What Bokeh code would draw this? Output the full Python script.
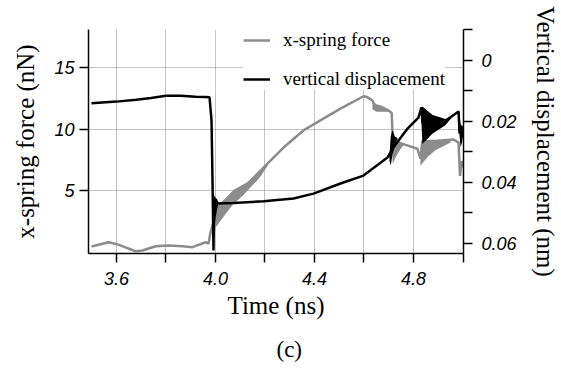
from bokeh.plotting import figure
from bokeh.models import (Range1d, LinearAxis, FixedTicker, Legend, LegendItem,
                          Title, CustomJSTickFormatter)
from bokeh.embed import file_html
from bokeh.resources import INLINE

# ---------------- data ----------------
# x-spring force (nN), left axis
t_force = [3.499, 3.568, 3.608, 3.677, 3.705, 3.758, 3.810, 3.867, 3.907, 3.960,
           3.972, 3.980, 3.988, 4.000, 4.073, 4.141, 4.210, 4.275, 4.356, 4.424,
           4.505, 4.598, 4.612, 4.634, 4.646, 4.699, 4.712, 4.716, 4.756, 4.816,
           4.828, 4.836, 4.897, 4.962, 4.982, 4.988, 4.994, 5.000]
force = [0.49, 0.84, 0.65, 0.11, 0.17, 0.52, 0.57, 0.52, 0.44, 0.84,
         0.74, 1.65, 2.20, 2.80, 4.50, 5.80, 7.20, 8.50, 9.90, 10.70,
         11.65, 12.65, 12.60, 12.30, 11.80, 11.50, 11.30, 9.10, 8.80, 8.40,
         7.60, 9.00, 9.05, 9.15, 8.90, 6.20, 7.40, 6.90]

# oscillation envelopes of the force (fast vibration shows as a thick band)
t_fband_a = [3.996, 4.000, 4.040, 4.073, 4.110, 4.141, 4.180, 4.210]
fband_a_hi = [3.00, 3.64, 4.40, 5.09, 5.50, 5.83, 6.60, 7.21]
fband_a_lo = [1.00, 2.02, 3.10, 3.96, 4.60, 5.27, 6.10, 7.00]
t_fband_b = [4.712, 4.716, 4.730, 4.745, 4.760]
fband_b_hi = [11.30, 9.30, 9.00, 8.90, 8.80]
fband_b_lo = [9.00, 7.20, 7.80, 8.30, 8.70]
t_fband_c = [4.828, 4.834, 4.860, 4.890, 4.920, 4.950]
fband_c_hi = [8.40, 9.20, 9.10, 9.10, 9.10, 9.15]
fband_c_lo = [7.00, 7.20, 7.80, 8.30, 8.60, 8.90]
t_fband_d = [4.634, 4.650, 4.670, 4.700]
fband_d_hi = [12.30, 12.00, 11.90, 11.60]
fband_d_lo = [11.60, 11.40, 11.40, 11.40]

# vertical displacement (nm), right axis (inverted)
t_disp = [3.499, 3.600, 3.680, 3.740, 3.800, 3.860, 3.920, 3.960, 3.976, 3.984,
          3.988, 3.992, 3.994, 3.996, 4.000, 4.004, 4.073, 4.194, 4.315, 4.396,
          4.505, 4.598, 4.695, 4.715, 4.776, 4.820, 4.832, 4.836, 4.877, 4.929,
          4.958, 4.982, 4.986, 4.992, 5.000]
disp = [0.0141, 0.0136, 0.0130, 0.0124, 0.0117, 0.0117, 0.0120, 0.0121, 0.0122, 0.0198,
        0.0394, 0.0623, 0.0460, 0.0500, 0.0469, 0.0469, 0.0468, 0.0462, 0.0453, 0.0437,
        0.0404, 0.0378, 0.0319, 0.0290, 0.0224, 0.0188, 0.0155, 0.0205, 0.0210, 0.0200,
        0.0182, 0.0168, 0.0240, 0.0215, 0.0231]

t_dband_e = [3.992, 3.996, 4.000, 4.006, 4.012]
dband_e_hi = [0.0440, 0.0445, 0.0450, 0.0455, 0.0465]
dband_e_lo = [0.0623, 0.0560, 0.0520, 0.0490, 0.0470]
t_dband_f = [4.703, 4.708, 4.715, 4.725, 4.735]
dband_f_hi = [0.0310, 0.0250, 0.0230, 0.0250, 0.0255]
dband_f_lo = [0.0330, 0.0345, 0.0310, 0.0280, 0.0260]
t_dband_g = [4.832, 4.836, 4.877, 4.929, 4.958]
dband_g_hi = [0.0155, 0.0152, 0.0180, 0.0193, 0.0180]
dband_g_lo = [0.0200, 0.0275, 0.0240, 0.0213, 0.0185]
t_dband_h = [4.985, 4.990, 4.996, 5.000]
dband_h_hi = [0.0170, 0.0210, 0.0220, 0.0220]
dband_h_lo = [0.0240, 0.0285, 0.0270, 0.0250]

x_major = [3.6, 4.0, 4.4, 4.8]
x_minor = [3.8, 4.2, 4.6, 5.0]
x_grid = [3.6, 3.8, 4.0, 4.2, 4.4, 4.6, 4.8]
yl_ticks = [5, 10, 15]
yr_major = [0.0, 0.02, 0.04, 0.06]
yr_minor = [-0.01, 0.01, 0.03, 0.05]

series_names = ["x-spring force", "vertical displacement"]
caption = "(c)"

# ---------------- styles ----------------
GRAY = "#8c8c8c"
SERIF = "Liberation Serif"
SANS = "Liberation Sans"

X0, X1 = 3.487, 5.002
YL0, YL1 = -0.07, 18.05

p = figure(width=561, height=379, output_backend="svg", toolbar_location=None,
           x_range=Range1d(X0, X1), y_range=Range1d(YL0, YL1),
           min_border_left=88, min_border_right=98, min_border_top=29,
           min_border_bottom=126)
p.extra_y_ranges = {"disp": Range1d(start=0.0633, end=-0.0100)}
p.outline_line_color = None
p.background_fill_color = "white"
p.border_fill_color = "white"

# grid
p.xgrid.ticker = FixedTicker(ticks=x_grid)
p.ygrid.ticker = FixedTicker(ticks=yl_ticks)
for g in (p.xgrid, p.ygrid):
    g.grid_line_color = "#888888"
    g.grid_line_dash = "1 1"
    g.grid_line_width = 1

def style_axis(ax):
    ax.axis_line_color = "black"
    ax.axis_line_width = 1.5
    ax.major_tick_line_color = "black"
    ax.minor_tick_line_color = "black"
    ax.major_tick_line_width = 1.5
    ax.minor_tick_line_width = 1.5
    ax.major_tick_in = 0
    ax.major_tick_out = 9
    ax.minor_tick_in = 0
    ax.minor_tick_out = 9
    ax.major_label_text_font = SANS
    ax.major_label_text_font_style = "italic"
    ax.major_label_text_font_size = "18px"
    ax.major_label_text_color = "black"
    ax.axis_label_text_font = SERIF
    ax.axis_label_text_font_style = "normal"
    ax.axis_label_text_font_size = "25px"
    ax.axis_label_text_color = "black"

xa = p.xaxis[0]
xa.ticker = FixedTicker(ticks=x_major, minor_ticks=x_minor)
xa.formatter = CustomJSTickFormatter(code="return tick.toFixed(1);")
xa.axis_label = "Time (ns)"
style_axis(xa)
xa.major_label_standoff = 9
xa.axis_label_standoff = 4

ya = p.yaxis[0]
ya.ticker = FixedTicker(ticks=yl_ticks, minor_ticks=[])
ya.axis_label = "x-spring force (nN)"
style_axis(ya)
ya.major_label_standoff = 5
ya.axis_label_standoff = 12

ra = LinearAxis(y_range_name="disp", axis_label="Vertical displacement (nm)")
ra.ticker = FixedTicker(ticks=yr_major, minor_ticks=yr_minor)
ra.formatter = CustomJSTickFormatter(code="return tick == 0 ? '0' : tick.toFixed(2);")
style_axis(ra)
ra.major_label_standoff = 9
ra.axis_label_standoff = 12
p.add_layout(ra, "right")

# bands
for tb, hi, lo in [(t_fband_a, fband_a_hi, fband_a_lo), (t_fband_b, fband_b_hi, fband_b_lo),
                   (t_fband_c, fband_c_hi, fband_c_lo), (t_fband_d, fband_d_hi, fband_d_lo)]:
    p.varea(x=tb, y1=lo, y2=hi, fill_color=GRAY)

r_force = p.line(t_force, force, line_color=GRAY, line_width=2.5)

for tb, hi, lo in [(t_dband_e, dband_e_hi, dband_e_lo), (t_dband_f, dband_f_hi, dband_f_lo),
                   (t_dband_g, dband_g_hi, dband_g_lo), (t_dband_h, dband_h_hi, dband_h_lo)]:
    p.varea(x=tb, y1=lo, y2=hi, fill_color="black", y_range_name="disp")

r_disp = p.line(t_disp, disp, line_color="black", line_width=2.5, y_range_name="disp")

legend = Legend(items=[LegendItem(label=series_names[0], renderers=[r_force]),
                       LegendItem(label=series_names[1], renderers=[r_disp])],
                location=(155, 163), orientation="vertical",
                background_fill_color="white", background_fill_alpha=1.0,
                border_line_color=None, padding=2, margin=0, spacing=17,
                label_height=22, glyph_height=22, glyph_width=27, label_standoff=13,
                label_text_font=SERIF, label_text_font_size="19px",
                label_text_color="black")
p.add_layout(legend)

# caption below the x axis
p.add_layout(Title(text=caption, align="left", offset=188, standoff=26,
                   vertical_align="bottom",
                   text_font=SERIF, text_font_size="23px", text_font_style="normal",
                   text_color="black"), "below")

open("out.html", "w").write(file_html(p, INLINE))
